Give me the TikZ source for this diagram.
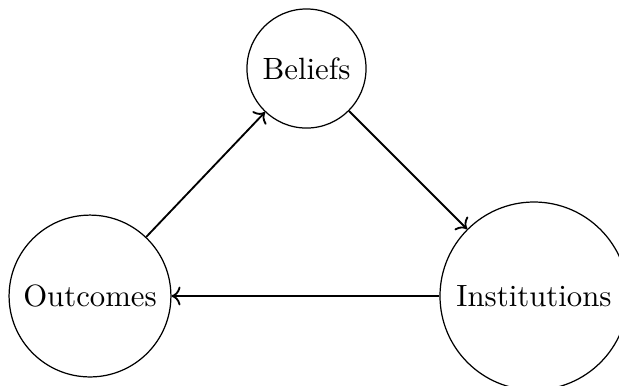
\documentclass[tikz,border=0pt]{standalone}
\usepackage{tikz}
\usetikzlibrary{arrows.meta,positioning}

\begin{document}
\begin{tikzpicture}[
  x=0.325pt, y=-0.325pt,
  blob/.style={draw, circle, inner sep=2pt},
  arr/.style={->, semithick}]
\useasboundingbox (0,0) rectangle (619,385);
\node[blob, minimum size=38.7pt] (bel) at (306.5,68.5) {Beliefs};
\node[blob, minimum size=52.6pt] (out) at (90,296) {Outcomes};
\node[blob, minimum size=61.1pt] (inst) at (534,296) {Institutions};
\draw[arr] (out) -- (bel);
\draw[arr] (bel) -- (inst);
\draw[arr] (inst) -- (out);
\end{tikzpicture}
\end{document}
